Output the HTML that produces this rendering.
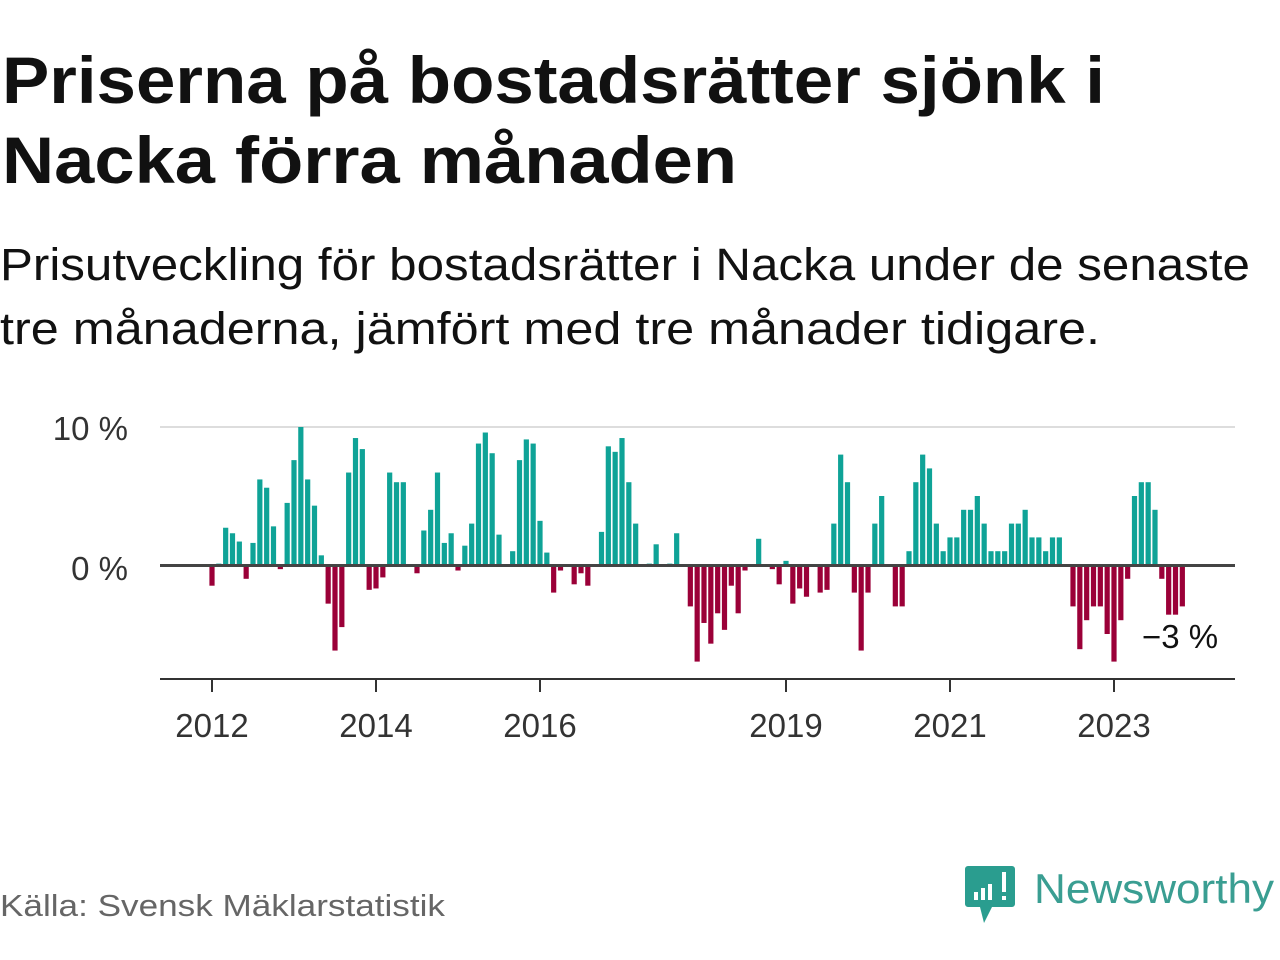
<!DOCTYPE html>
<html><head><meta charset="utf-8"><style>
html,body{margin:0;padding:0;background:#fff;}
svg{display:block;font-family:"Liberation Sans",sans-serif;}
</style></head><body>
<svg id="chart" width="1280" height="960" viewBox="0 0 1280 960">
<text x="2" y="103" font-size="66" font-weight="bold" fill="#111" textLength="1103" lengthAdjust="spacingAndGlyphs">Priserna på bostadsrätter sjönk i</text>
<text x="2" y="183" font-size="66" font-weight="bold" fill="#111" textLength="735" lengthAdjust="spacingAndGlyphs">Nacka förra månaden</text>
<text x="0" y="280" font-size="45" fill="#111" textLength="1250" lengthAdjust="spacingAndGlyphs">Prisutveckling för bostadsrätter i Nacka under de senaste</text>
<text x="0" y="344" font-size="45" fill="#111" textLength="1100" lengthAdjust="spacingAndGlyphs">tre månaderna, jämfört med tre månader tidigare.</text>
<line x1="160" y1="427" x2="1235" y2="427" stroke="#ddd" stroke-width="2"/>
<text x="128" y="440" font-size="33" fill="#333" text-anchor="end">10 %</text>
<text x="128" y="580" font-size="33" fill="#333" text-anchor="end">0 %</text>
<g id="bars"></g>
<line x1="160" y1="565.5" x2="1235" y2="565.5" stroke="#444" stroke-width="3"/>
<line x1="160" y1="679" x2="1235" y2="679" stroke="#333" stroke-width="2"/>
<g id="xticks"></g>
<text x="1142" y="648" font-size="33" fill="#111">−3 %</text>
<text x="0" y="916" font-size="31" fill="#666" textLength="445" lengthAdjust="spacingAndGlyphs">Källa: Svensk Mäklarstatistik</text>
<g>
<path d="M968 866 h44 a3 3 0 0 1 3 3 v35 a3 3 0 0 1 -3 3 h-20 l-8 16 l-4 -16 h-12 a3 3 0 0 1 -3 -3 v-35 a3 3 0 0 1 3 -3z" fill="#2a9d8f"/>
<rect x="974" y="892" width="4" height="8" fill="#fff"/>
<rect x="981" y="888" width="4" height="12" fill="#fff"/>
<rect x="988" y="884" width="4" height="16" fill="#fff"/>
<rect x="1002" y="872" width="4" height="20" fill="#fff"/>
<rect x="1002" y="896" width="4" height="4" fill="#fff"/>
<text x="1034" y="903" font-size="42" fill="#3a9e92" textLength="240" lengthAdjust="spacingAndGlyphs">Newsworthy</text>
</g>
</svg>
<script>
const values = [-1.5,0.1,2.7,2.3,1.7,-1.0,1.6,6.2,5.6,2.8,-0.3,4.5,7.6,10.0,6.2,4.3,0.7,-2.8,-6.2,-4.5,6.7,9.2,8.4,-1.8,-1.7,-0.9,6.7,6.0,6.0,0,-0.6,2.5,4.0,6.7,1.6,2.3,-0.4,1.4,3.0,8.8,9.6,8.1,2.2,0,1.0,7.6,9.1,8.8,3.2,0.9,-2.0,-0.4,0,-1.4,-0.6,-1.5,0,2.4,8.6,8.2,9.2,6.0,3.0,0,0.1,1.5,0,0.1,2.3,0,-3.0,-7.0,-4.2,-5.7,-3.5,-4.7,-1.5,-3.5,-0.4,0,1.9,0,-0.3,-1.4,0.3,-2.8,-1.7,-2.3,0,-2.0,-1.8,3.0,8.0,6.0,-2.0,-6.2,-2.0,3.0,5.0,0,-3.0,-3.0,1.0,6.0,8.0,7.0,3.0,1.0,2.0,2.0,4.0,4.0,5.0,3.0,1.0,1.0,1.0,3.0,3.0,4.0,2.0,2.0,1.0,2.0,2.0,0,-3.0,-6.1,-4.0,-3.0,-3.0,-5.0,-7.0,-4.0,-1.0,5.0,6.0,6.0,4.0,-1.0,-3.6,-3.6,-3.0];
const startYear = 2012;
const tickYears = [2012,2014,2016,2019,2021,2023];
const NS="http://www.w3.org/2000/svg";
function xScale(i){return 212 + i*82/12;}
function yScale(v){return 565 - v*13.8;}
const bars=document.getElementById('bars');
values.forEach((v,i)=>{
  if(v===0) return;
  const r=document.createElementNS(NS,'rect');
  const y0=yScale(0), y1=yScale(v);
  r.setAttribute('x',xScale(i)-2.6);
  r.setAttribute('width',5.2);
  r.setAttribute('y',Math.min(y0,y1));
  r.setAttribute('height',Math.abs(y1-y0));
  r.setAttribute('fill',v>0?'#0fa397':'#9b0038');
  
  
  bars.appendChild(r);
});
const xt=document.getElementById('xticks');
tickYears.forEach(y=>{
  const x=xScale((y-startYear)*12);
  const l=document.createElementNS(NS,'line');
  l.setAttribute('x1',x);l.setAttribute('x2',x);l.setAttribute('y1',679);l.setAttribute('y2',692);
  l.setAttribute('stroke','#333');l.setAttribute('stroke-width',2);
  
  
  xt.appendChild(l);
  const t=document.createElementNS(NS,'text');
  t.setAttribute('x',x);t.setAttribute('y',737);t.setAttribute('font-size',33);
  t.setAttribute('fill','#333');t.setAttribute('text-anchor','middle');
  t.textContent=y;
  
  
  xt.appendChild(t);
});
</script>
</body></html>
